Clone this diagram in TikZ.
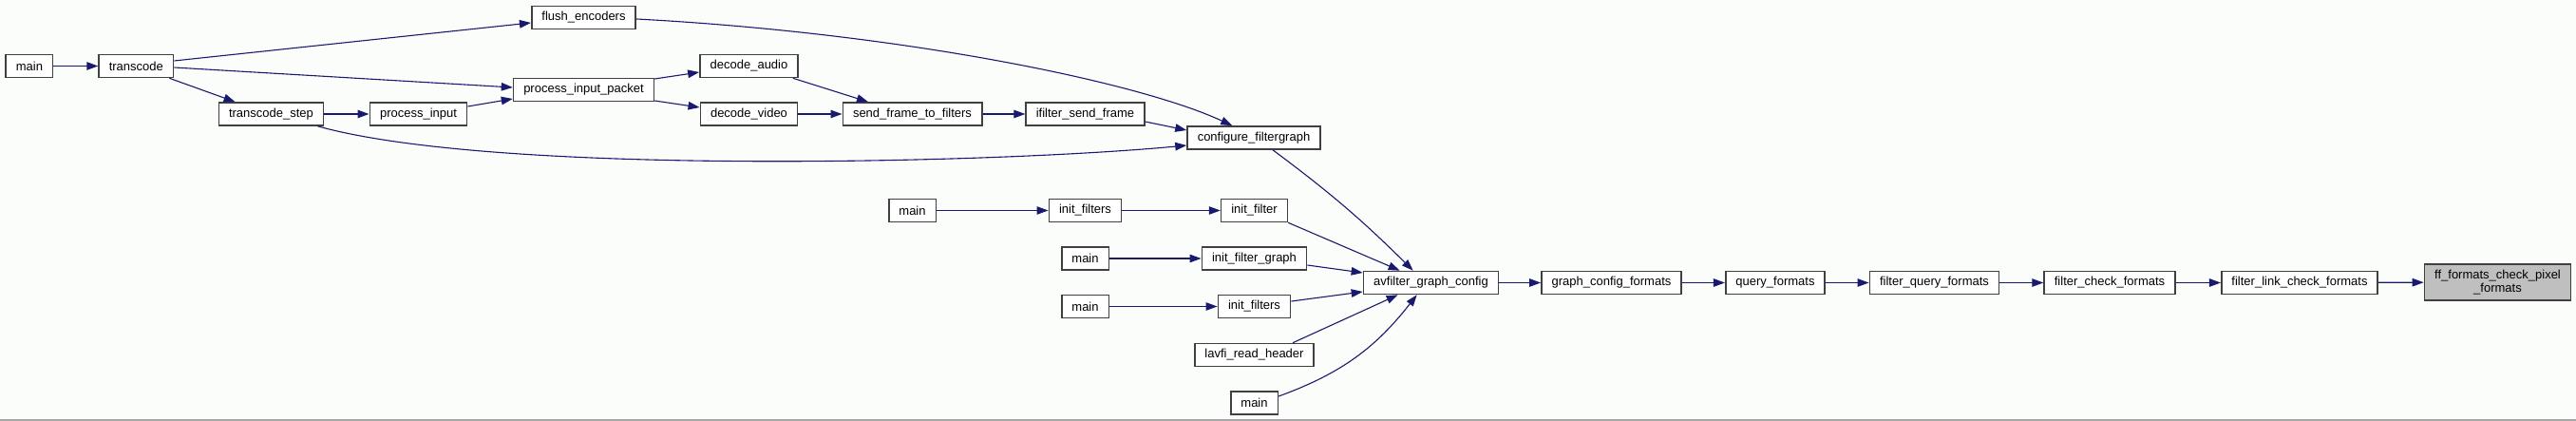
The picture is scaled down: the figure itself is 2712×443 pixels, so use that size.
\documentclass[tikz,border=0pt]{standalone}
\usepackage{fontspec}
\setmainfont{Liberation Sans}
\usetikzlibrary{arrows.meta}
\definecolor{edgeblue}{RGB}{25,25,112}
\definecolor{bgcol}{RGB}{251,253,251}

\begin{document}
\begin{tikzpicture}[x=1pt, y=-1pt, >={Triangle[length=12pt,width=8.5pt]},
  font=\fontsize{13}{14.5}\selectfont,
  fn/.style={draw=black!75, line width=1.6pt, fill=white, inner xsep=10.7pt, inner ysep=0pt, minimum height=24pt, align=center},
  hl/.style={fn, fill=black!25, minimum height=38.5pt},
  call/.style={->, draw=edgeblue, line width=1.1pt}]
\useasboundingbox (0,0) rectangle (2712,443);
\fill[bgcol] (0,0) rectangle (2712,443);
\fill[black!35] (0,441) rectangle (2712,443);
% transcode branch
\node[fn] (main1) at (30.9,69.5) {main};
\node[fn] (trans) at (143.3,69.5) {transcode};
\node[fn] (flush) at (614.5,18.5) {flush\_encoders};
\node[fn] (pip) at (614.5,94.5) {process\_input\_packet};
\node[fn] (tstep) at (285.5,120) {transcode\_step};
\node[fn] (pin) at (440.5,120) {process\_input};
\node[fn] (daud) at (788.5,69.5) {decode\_audio};
\node[fn] (dvid) at (788.5,120) {decode\_video};
\node[fn] (sftf) at (960.5,120) {send\_frame\_to\_filters};
\node[fn] (isf) at (1142.5,120) {ifilter\_send\_frame};
\node[fn] (cfg) at (1320,145) {configure\_filtergraph};
% other callers of avfilter_graph_config
\node[fn] (main2) at (960.5,221.5) {main};
\node[fn] (ifs1) at (1142.5,221.5) {init\_filters};
\node[fn] (ifl) at (1320.5,221.5) {init\_filter};
\node[fn] (main3) at (1142.5,272) {main};
\node[fn] (ifg) at (1320.5,272) {init\_filter\_graph};
\node[fn] (main4) at (1142.5,322.5) {main};
\node[fn] (ifs2) at (1320.5,322.5) {init\_filters};
\node[fn] (lrh) at (1320.5,373.5) {lavfi\_read\_header};
\node[fn] (main5) at (1320.5,424) {main};
% main chain
\node[fn] (agc) at (1506.5,297.5) {avfilter\_graph\_config};
\node[fn] (gcf) at (1696.5,297.5) {graph\_config\_formats};
\node[fn] (qf) at (1869,297.5) {query\_formats};
\node[fn] (fqf) at (2036.5,297.5) {filter\_query\_formats};
\node[fn] (fcf) at (2221,297.5) {filter\_check\_formats};
\node[fn] (flcf) at (2421,297.5) {filter\_link\_check\_formats};
\node[hl] (ffpix) at (2629.5,297) {ff\_formats\_check\_pixel\\\_formats};
% edges, transcode side
\draw[call] (main1) -- (trans);
\draw[call] ([yshift=5.5pt]trans.east) -- ([yshift=-5.5pt]flush.west);
\draw[call] ([yshift=-1.5pt]trans.east) -- ([yshift=2.5pt]pip.west);
\draw[call] ([xshift=-5pt]trans.south east) -- ([xshift=18pt]tstep.north west);
\draw[call] (tstep) -- (pin);
\draw[call] ([yshift=8pt]pin.east) -- ([yshift=-9.5pt]pip.west);
\draw[call] ([yshift=11.5pt]pip.east) -- ([yshift=-6.5pt]daud.west);
\draw[call] ([yshift=-11.5pt]pip.east) -- ([yshift=7pt]dvid.west);
\draw[call] ([xshift=-6pt]daud.south east) -- ([xshift=27.5pt]sftf.north west);
\draw[call] (dvid) -- (sftf);
\draw[call] (sftf) -- (isf);
\draw[call] ([yshift=-8pt]isf.east) -- ([yshift=8pt]cfg.west);
\draw[call] ([yshift=-1.5pt]flush.east) .. controls +(280,15) and +(-99,-46) .. ([xshift=48pt]cfg.north west);
\draw[call] ([xshift=-7pt]tstep.south east) .. controls +(186,52) and +(-201,19) .. ([yshift=-8pt]cfg.west);
% edges into avfilter_graph_config
\draw[call] ([xshift=20pt]cfg.south) to[bend left=4] ([xshift=53pt]agc.north west);
\draw[call] (main2) -- (ifs1);
\draw[call] (ifs1) -- (ifl);
\draw[call] (ifl.south east) -- ([xshift=39pt]agc.north west);
\draw[call] (main3) -- (ifg);
\draw[call] ([yshift=-7pt]ifg.east) -- ([yshift=10.5pt]agc.west);
\draw[call] (main4) -- (ifs2);
\draw[call] ([yshift=5.5pt]ifs2.east) -- ([yshift=-9.5pt]agc.west);
\draw[call] ([xshift=-23pt]lrh.north east) -- ([xshift=37pt]agc.south west);
\draw[call] ([yshift=7pt]main5.east) to[out=20, in=-128] ([xshift=57pt]agc.south west);
% chain to the highlighted function
\draw[call] (agc) -- (gcf);
\draw[call] (gcf) -- (qf);
\draw[call] (qf) -- (fqf);
\draw[call] (fqf) -- (fcf);
\draw[call] (fcf) -- (flcf);
\draw[call] (flcf) -- (ffpix);
\end{tikzpicture}
\end{document}
